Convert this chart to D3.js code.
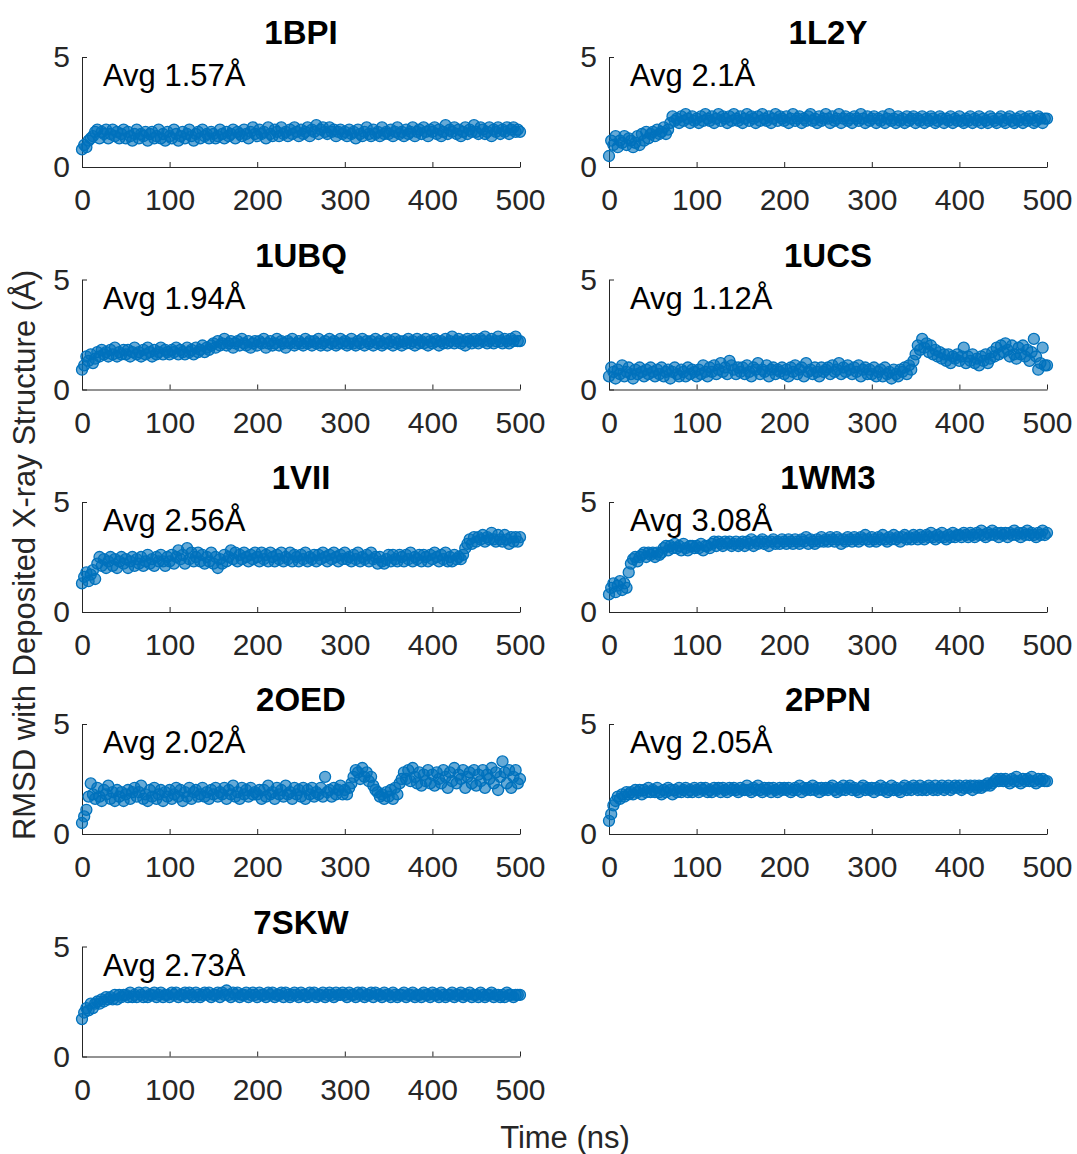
<!DOCTYPE html>
<html>
<head>
<meta charset="utf-8">
<script src="https://cdn.jsdelivr.net/npm/d3@7"></script>
<style>
  body { margin: 0; background: #fff; }
  svg { display: block; font-family: "Liberation Sans", Arial, sans-serif; }
  .tick text { fill: #262626; font-size: 30px; }
  .tick line, .domain { stroke: #262626; }
</style>
</head>
<body>
<div id="chart"></div>
<script>
// RMSD (Å) read every 2.5 ns, 0..500 ns
var timeNs = d3.range(0, 502.5, 2.5);
var xTicks = [0, 100, 200, 300, 400, 500];
var yTicks = [0, 5];

var proteins = ["1BPI", "1L2Y", "1UBQ", "1UCS", "1VII", "1WM3", "2OED", "2PPN", "7SKW"];
var averages = ["1.57", "2.1", "1.94", "1.12", "2.56", "3.08", "2.02", "2.05", "2.73"];

var rmsd1BPI = [
  0.8,1.0,0.9,1.2,1.3,1.4,1.6,1.7,1.3,1.6,1.5,1.7,1.3,1.5,1.7,1.4,1.6,1.3,1.5,1.7,
  1.3,1.6,1.4,1.2,1.5,1.7,1.3,1.5,1.4,1.6,1.2,1.5,1.6,1.3,1.4,1.7,1.3,1.5,1.2,1.6,
  1.4,1.3,1.7,1.5,1.2,1.4,1.6,1.3,1.5,1.7,1.4,1.2,1.5,1.6,1.3,1.7,1.4,1.5,1.3,1.6,
  1.5,1.3,1.4,1.7,1.5,1.3,1.6,1.4,1.5,1.7,1.3,1.6,1.5,1.4,1.7,1.5,1.3,1.6,1.8,1.5,
  1.4,1.7,1.5,1.6,1.3,1.8,1.5,1.4,1.7,1.6,1.4,1.8,1.5,1.6,1.4,1.7,1.5,1.8,1.6,1.4,
  1.7,1.5,1.6,1.8,1.4,1.7,1.6,1.9,1.5,1.7,1.8,1.6,1.5,1.8,1.6,1.7,1.4,1.6,1.7,1.5,
  1.6,1.4,1.7,1.5,1.6,1.3,1.7,1.5,1.4,1.6,1.8,1.5,1.4,1.7,1.5,1.6,1.4,1.8,1.5,1.6,
  1.5,1.7,1.4,1.6,1.8,1.5,1.6,1.4,1.7,1.5,1.6,1.8,1.4,1.6,1.7,1.5,1.8,1.6,1.4,1.7,
  1.6,1.8,1.5,1.7,1.4,1.6,1.9,1.5,1.7,1.6,1.8,1.5,1.7,1.4,1.6,1.8,1.5,1.7,1.6,1.9,
  1.6,1.5,1.8,1.7,1.5,1.6,1.8,1.4,1.7,1.6,1.8,1.5,1.7,1.6,1.8,1.5,1.7,1.8,1.6,1.7,
  1.6];

var rmsd1L2Y = [
  0.5,1.2,1.0,1.4,0.9,1.2,1.1,1.4,1.0,1.3,1.2,0.9,1.1,1.4,1.0,1.5,1.2,1.6,1.3,1.5,
  1.6,1.4,1.7,1.5,1.6,1.8,1.5,1.7,2.0,2.3,2.1,2.2,2.0,2.3,2.1,2.4,2.2,2.0,2.3,2.1,
  2.2,2.0,2.3,2.1,2.4,2.2,2.1,2.3,2.0,2.2,2.4,2.1,2.3,2.2,2.0,2.3,2.1,2.4,2.2,2.1,
  2.3,2.0,2.2,2.4,2.1,2.3,2.2,2.0,2.3,2.1,2.4,2.2,2.1,2.3,2.0,2.2,2.4,2.1,2.3,2.2,
  2.1,2.3,2.0,2.2,2.4,2.1,2.2,2.3,2.0,2.2,2.1,2.3,2.4,2.1,2.2,2.0,2.3,2.1,2.2,2.4,
  2.2,2.0,2.3,2.1,2.2,2.4,2.0,2.2,2.3,2.1,2.2,2.0,2.3,2.2,2.1,2.4,2.2,2.0,2.3,2.1,
  2.2,2.3,2.0,2.2,2.1,2.3,2.0,2.2,2.4,2.1,2.2,2.0,2.3,2.1,2.2,2.0,2.3,2.1,2.2,2.3,
  2.0,2.2,2.1,2.3,2.0,2.2,2.1,2.3,2.2,2.0,2.1,2.3,2.2,2.0,2.2,2.1,2.3,2.0,2.2,2.1,
  2.3,2.1,2.0,2.2,2.1,2.3,2.0,2.2,2.1,2.3,2.0,2.2,2.1,2.0,2.3,2.2,2.1,2.0,2.2,2.3,
  2.1,2.0,2.2,2.3,2.1,2.0,2.2,2.1,2.3,2.0,2.2,2.1,2.3,2.2,2.0,2.1,2.3,2.2,2.0,2.2,
  2.2];

var rmsd1UBQ = [
  0.9,1.1,1.5,1.3,1.6,1.2,1.4,1.7,1.5,1.8,1.6,1.7,1.5,1.8,1.6,1.9,1.5,1.7,1.6,1.8,
  1.6,1.8,1.5,1.7,1.9,1.6,1.7,1.5,1.8,1.6,1.9,1.7,1.5,1.8,1.6,1.7,1.9,1.6,1.8,1.7,
  1.6,1.8,1.7,1.9,1.6,1.8,1.7,1.6,1.9,1.7,1.8,1.6,1.9,1.7,1.8,2.0,1.7,1.9,1.8,2.0,
  2.1,1.9,2.2,2.0,2.1,2.3,2.0,2.1,2.2,1.9,2.1,2.2,2.0,2.3,2.1,2.0,2.2,1.9,2.1,2.2,
  2.0,2.2,2.1,2.3,1.9,2.1,2.2,2.0,2.1,2.3,2.0,2.2,2.1,1.9,2.2,2.1,2.3,2.0,2.1,2.2,
  2.1,2.0,2.3,2.1,2.2,2.0,2.2,2.1,2.3,2.0,2.1,2.2,2.0,2.3,2.1,2.2,2.0,2.1,2.3,2.1,
  2.2,2.0,2.1,2.3,2.1,2.0,2.2,2.1,2.3,2.0,2.2,2.1,2.2,2.0,2.3,2.1,2.2,2.0,2.1,2.3,
  2.1,2.2,2.0,2.3,2.1,2.2,2.0,2.2,2.1,2.3,2.1,2.2,2.0,2.3,2.1,2.2,2.1,2.3,2.0,2.2,
  2.1,2.3,2.2,2.0,2.2,2.1,2.3,2.1,2.2,2.4,2.1,2.2,2.3,2.1,2.2,2.0,2.3,2.2,2.1,2.3,
  2.2,2.1,2.3,2.2,2.4,2.1,2.2,2.3,2.1,2.2,2.4,2.2,2.1,2.3,2.2,2.1,2.3,2.2,2.4,2.2,
  2.2];

var rmsd1UCS = [
  0.6,1.0,0.8,0.5,0.9,0.7,1.1,0.6,0.8,1.0,0.7,0.5,0.9,0.7,1.0,0.8,0.6,0.9,0.7,1.0,
  0.8,0.6,0.9,0.7,1.0,0.6,0.8,0.9,0.5,0.8,1.0,0.7,0.6,0.9,0.8,0.6,1.0,0.7,0.9,0.8,
  0.6,0.9,0.7,1.1,0.8,0.6,1.0,0.8,1.1,0.7,0.9,1.2,0.8,1.0,0.7,1.3,1.1,0.9,0.7,1.0,
  0.8,1.0,0.7,1.1,0.8,0.6,1.0,0.9,1.2,0.7,0.9,0.8,1.1,0.6,0.9,1.0,0.7,0.9,0.8,1.0,
  0.7,0.9,0.6,1.0,0.8,1.1,0.7,0.9,1.0,0.6,1.2,0.8,0.9,0.7,1.0,0.8,0.6,1.0,0.8,0.9,
  1.0,0.7,1.1,0.8,0.9,1.2,0.7,1.0,0.8,1.1,0.9,0.7,1.0,0.8,1.1,0.6,0.9,1.0,0.7,0.9,
  0.7,1.0,0.6,0.8,0.9,0.6,1.0,0.7,0.8,0.5,0.9,0.7,0.6,0.9,0.8,1.0,0.7,1.1,0.9,1.3,
  1.6,2.0,1.8,2.3,1.9,2.1,1.7,2.0,1.6,1.8,1.5,1.7,1.4,1.6,1.3,1.6,1.2,1.5,1.4,1.6,
  1.3,1.5,1.9,1.2,1.5,1.3,1.6,1.2,1.4,1.1,1.5,1.3,1.6,1.2,1.4,1.7,1.5,1.9,1.6,2.0,
  1.7,2.1,1.8,1.5,2.0,1.6,1.4,1.9,1.6,2.0,1.5,1.8,1.3,1.7,2.3,1.5,0.9,1.2,1.9,1.1,
  1.1];

var rmsd1VII = [
  1.3,1.6,1.8,1.4,1.7,1.9,1.5,2.2,2.5,2.1,2.4,2.0,2.3,2.5,2.1,2.4,2.0,2.3,2.5,2.2,
  2.4,2.0,2.3,2.5,2.1,2.4,2.2,2.5,2.1,2.3,2.6,2.2,2.4,2.1,2.5,2.3,2.6,2.3,2.1,2.5,
  2.3,2.6,2.2,2.5,2.8,2.4,2.6,2.2,2.9,2.4,2.7,2.3,2.5,2.7,2.3,2.6,2.2,2.5,2.3,2.7,
  2.2,2.5,2.0,2.4,2.2,2.6,2.3,2.5,2.8,2.4,2.7,2.3,2.6,2.4,2.7,2.5,2.3,2.6,2.4,2.7,
  2.5,2.3,2.7,2.4,2.6,2.3,2.7,2.5,2.3,2.6,2.4,2.7,2.3,2.5,2.4,2.7,2.3,2.6,2.5,2.3,
  2.6,2.4,2.7,2.3,2.5,2.4,2.6,2.3,2.6,2.4,2.7,2.5,2.3,2.6,2.4,2.7,2.5,2.3,2.6,2.4,
  2.7,2.4,2.5,2.3,2.6,2.4,2.7,2.3,2.5,2.4,2.6,2.3,2.7,2.4,2.5,2.2,2.5,2.3,2.2,2.4,
  2.6,2.3,2.6,2.4,2.3,2.6,2.5,2.3,2.6,2.4,2.7,2.3,2.5,2.4,2.6,2.3,2.6,2.5,2.3,2.6,
  2.4,2.7,2.5,2.3,2.6,2.4,2.7,2.3,2.5,2.3,2.6,2.4,2.5,2.4,2.6,2.9,3.1,3.3,3.1,3.4,
  3.2,3.4,3.3,3.5,3.2,3.4,3.3,3.6,3.3,3.2,3.5,3.3,3.2,3.5,3.3,3.1,3.4,3.2,3.4,3.2,
  3.4];

var rmsd1WM3 = [
  0.8,1.1,1.3,0.9,1.2,1.4,1.0,1.3,1.1,1.8,2.2,2.4,2.5,2.3,2.5,2.6,2.7,2.5,2.7,2.6,
  2.7,2.5,2.7,2.6,2.7,2.9,3.0,2.8,3.0,2.9,3.1,2.9,3.0,2.8,3.1,2.9,2.8,3.0,3.0,2.9,
  3.0,2.9,3.1,2.8,3.0,3.0,2.9,3.1,3.2,3.0,3.2,3.1,3.0,3.2,3.1,3.2,3.0,3.1,3.2,3.0,
  3.1,3.2,3.0,3.2,3.1,3.3,3.0,3.2,3.1,3.2,3.3,3.1,3.2,3.0,3.2,3.3,3.1,3.2,3.1,3.3,
  3.2,3.1,3.3,3.2,3.1,3.3,3.2,3.1,3.3,3.2,3.4,3.1,3.3,3.2,3.1,3.3,3.2,3.4,3.2,3.3,
  3.2,3.4,3.3,3.2,3.4,3.3,3.1,3.3,3.2,3.4,3.3,3.2,3.4,3.3,3.2,3.4,3.3,3.5,3.3,3.2,
  3.4,3.3,3.2,3.4,3.3,3.5,3.3,3.2,3.4,3.3,3.5,3.3,3.4,3.2,3.4,3.5,3.3,3.4,3.3,3.5,
  3.4,3.3,3.5,3.4,3.3,3.5,3.4,3.6,3.4,3.3,3.5,3.4,3.6,3.4,3.3,3.5,3.4,3.6,3.4,3.5,
  3.5,3.4,3.6,3.5,3.4,3.6,3.5,3.4,3.6,3.5,3.7,3.5,3.4,3.6,3.5,3.7,3.5,3.6,3.4,3.6,
  3.5,3.6,3.4,3.6,3.5,3.7,3.5,3.6,3.4,3.6,3.5,3.7,3.5,3.6,3.5,3.4,3.6,3.5,3.7,3.5,
  3.6];

var rmsd2OED = [
  0.5,0.8,1.1,1.7,2.3,1.8,1.6,2.1,1.7,1.5,2.0,1.8,2.2,1.6,1.9,1.5,2.0,1.7,1.9,1.5,
  1.8,2.0,1.6,1.9,2.1,1.7,1.9,2.2,1.6,1.8,1.5,2.0,1.7,2.1,1.6,1.8,2.0,1.5,1.9,1.7,
  2.0,1.6,1.8,2.1,1.7,2.0,1.5,1.9,1.7,2.1,1.6,1.9,2.0,1.7,1.8,2.1,1.7,1.9,1.6,2.0,
  1.8,2.1,1.7,1.9,1.8,2.1,1.6,2.0,1.8,2.2,1.7,1.9,1.6,2.1,1.8,2.0,1.7,2.1,1.8,1.9,
  1.8,2.0,1.6,2.0,1.7,2.2,1.8,1.9,1.6,2.1,1.8,2.0,1.7,2.2,1.8,1.9,1.6,2.1,1.8,2.0,
  1.7,2.1,1.6,2.0,1.8,2.1,1.7,1.9,1.8,2.1,1.7,2.6,1.9,2.0,1.7,2.1,1.8,2.0,2.2,1.8,
  2.0,1.8,2.1,2.3,2.6,2.9,2.8,2.5,3.0,2.6,2.8,2.4,2.6,2.2,2.0,1.9,1.7,1.8,1.6,1.9,
  1.7,2.0,1.6,2.1,1.8,2.3,2.5,2.8,2.5,2.9,2.4,3.0,2.6,2.3,2.8,2.2,2.7,2.4,2.9,2.3,
  2.7,2.2,2.8,2.5,2.3,2.9,2.6,2.1,2.8,2.4,3.0,2.3,2.7,2.5,2.9,2.1,2.6,2.8,2.3,2.9,
  2.2,2.7,2.4,2.9,2.1,2.7,2.5,3.0,2.3,2.8,2.0,2.6,3.3,2.8,2.3,2.9,2.1,2.6,2.9,2.3,
  2.5];

var rmsd2PPN = [
  0.6,0.9,1.3,1.5,1.7,1.6,1.8,1.7,1.9,1.8,1.9,1.8,2.0,1.9,2.0,1.8,2.0,1.9,2.1,1.9,
  2.0,1.9,2.1,1.9,1.8,2.0,1.9,2.1,2.0,1.8,2.0,1.9,2.1,1.9,2.0,2.1,1.9,2.0,1.9,2.1,
  2.0,1.9,2.1,2.0,2.1,1.9,2.0,1.9,2.1,2.0,2.1,1.9,2.1,2.0,1.9,2.1,2.0,2.1,2.0,1.9,
  2.1,2.0,2.0,2.2,2.0,1.9,2.1,2.0,2.2,2.0,1.9,2.1,2.0,2.1,1.9,2.1,2.0,1.9,2.1,2.0,
  2.1,2.0,2.1,1.9,2.0,2.1,2.0,2.2,1.9,2.1,2.0,2.1,2.0,2.2,2.0,2.1,1.9,2.1,2.0,2.1,
  2.0,2.1,2.2,2.0,1.9,2.1,2.0,2.2,2.0,2.1,2.2,2.0,2.1,2.0,1.9,2.1,2.2,2.0,2.1,2.0,
  2.1,1.9,2.1,2.0,2.2,2.0,2.1,1.9,2.0,2.2,2.0,2.1,2.0,1.9,2.1,2.2,2.0,2.1,2.0,2.2,
  2.1,2.0,2.2,2.0,2.1,2.0,2.2,2.1,2.0,2.2,2.0,2.1,2.2,2.0,2.1,2.2,2.0,2.1,2.2,2.1,
  2.2,2.0,2.1,2.2,2.1,2.2,2.0,2.2,2.1,2.2,2.1,2.2,2.2,2.3,2.2,2.3,2.4,2.5,2.4,2.5,
  2.4,2.5,2.4,2.3,2.5,2.4,2.6,2.4,2.3,2.5,2.4,2.5,2.4,2.6,2.4,2.3,2.5,2.4,2.5,2.4,
  2.4];

var rmsd7SKW = [
  1.7,2.0,2.2,2.1,2.4,2.2,2.4,2.5,2.4,2.6,2.5,2.7,2.6,2.7,2.6,2.8,2.6,2.8,2.7,2.8,
  2.8,2.7,2.9,2.7,2.8,2.7,2.9,2.8,2.7,2.9,2.7,2.8,2.8,2.9,2.7,2.8,2.9,2.7,2.8,2.8,
  2.7,2.9,2.8,2.9,2.7,2.8,2.8,2.9,2.7,2.9,2.8,2.7,2.9,2.8,2.7,2.8,2.9,2.8,2.9,2.7,
  2.8,2.8,2.9,2.7,2.9,2.8,3.0,2.8,2.7,2.9,2.8,2.9,2.7,2.8,2.8,2.9,2.7,2.8,2.9,2.8,
  2.7,2.9,2.8,2.8,2.7,2.9,2.8,2.9,2.7,2.8,2.8,2.9,2.7,2.9,2.8,2.7,2.8,2.9,2.8,2.7,
  2.9,2.8,2.8,2.7,2.9,2.8,2.9,2.7,2.8,2.8,2.9,2.7,2.8,2.9,2.8,2.7,2.9,2.8,2.8,2.9,
  2.8,2.7,2.9,2.8,2.8,2.7,2.9,2.8,2.9,2.7,2.8,2.8,2.9,2.7,2.9,2.8,2.8,2.7,2.9,2.8,
  2.8,2.7,2.9,2.8,2.7,2.8,2.8,2.9,2.7,2.8,2.8,2.9,2.7,2.8,2.8,2.7,2.9,2.8,2.8,2.7,
  2.9,2.8,2.8,2.7,2.9,2.8,2.7,2.8,2.8,2.9,2.7,2.8,2.8,2.9,2.7,2.8,2.8,2.9,2.7,2.8,
  2.8,2.7,2.9,2.8,2.7,2.8,2.8,2.9,2.7,2.8,2.8,2.7,2.8,2.7,2.9,2.8,2.8,2.7,2.8,2.8,
  2.8];

var series = [rmsd1BPI, rmsd1L2Y, rmsd1UBQ, rmsd1UCS, rmsd1VII, rmsd1WM3, rmsd2OED, rmsd2PPN, rmsd7SKW];

var width = 1077, height = 1154;
var color = "#0072BD";

var svg = d3.select("#chart").append("svg")
    .attr("width", width)
    .attr("height", height);

// panel geometry
var colLeft = [82, 609], plotW = 438, plotH = 110;
var rowTop = [57, 279.5, 502, 724, 946.5];

proteins.forEach(function(name, i) {
    var col = i % 2, row = Math.floor(i / 2);
    var left = colLeft[col], top = rowTop[row];

    var x = d3.scaleLinear().domain([0, 500]).range([0, plotW]);
    var y = d3.scaleLinear().domain([0, 5]).range([plotH, 0]);

    var g = svg.append("g").attr("transform", "translate(" + left + "," + top + ")");

    g.append("g")
        .attr("class", "axis axis--x")
        .attr("transform", "translate(0," + plotH + ")")
        .call(d3.axisBottom(x).tickValues(xTicks).tickFormat(d3.format("d"))
            .tickSizeInner(-5).tickSizeOuter(0).tickPadding(22));

    g.append("g")
        .attr("class", "axis axis--y")
        .call(d3.axisLeft(y).tickValues(yTicks).tickFormat(d3.format("d"))
            .tickSizeInner(-5).tickSizeOuter(0).tickPadding(12));

    g.selectAll(".axis").attr("font-family", null).attr("font-size", null);

    // light fill stands in for the much denser frame sampling of the original
    g.selectAll("circle")
        .data(series[i])
        .enter().append("circle")
        .attr("cx", function(d, k) { return x(timeNs[k]); })
        .attr("cy", function(d) { return y(d); })
        .attr("r", 5.5)
        .attr("fill", color)
        .attr("fill-opacity", 0.6)
        .attr("stroke", color)
        .attr("stroke-width", 1.3);

    g.append("text")
        .attr("x", plotW / 2)
        .attr("y", -13)
        .attr("text-anchor", "middle")
        .attr("font-size", 33)
        .attr("font-weight", "bold")
        .attr("fill", "#000")
        .text(name);

    g.append("text")
        .attr("x", 21)
        .attr("y", 29)
        .attr("font-size", 31)
        .attr("fill", "#000")
        .text("Avg " + averages[i] + "Å");
});

svg.append("text")
    .attr("transform", "translate(35,555) rotate(-90)")
    .attr("text-anchor", "middle")
    .attr("font-size", 31)
    .attr("fill", "#262626")
    .text("RMSD with Deposited X-ray Structure (Å)");

svg.append("text")
    .attr("x", 565)
    .attr("y", 1148)
    .attr("text-anchor", "middle")
    .attr("font-size", 31)
    .attr("fill", "#262626")
    .text("Time (ns)");
</script>
</body>
</html>
